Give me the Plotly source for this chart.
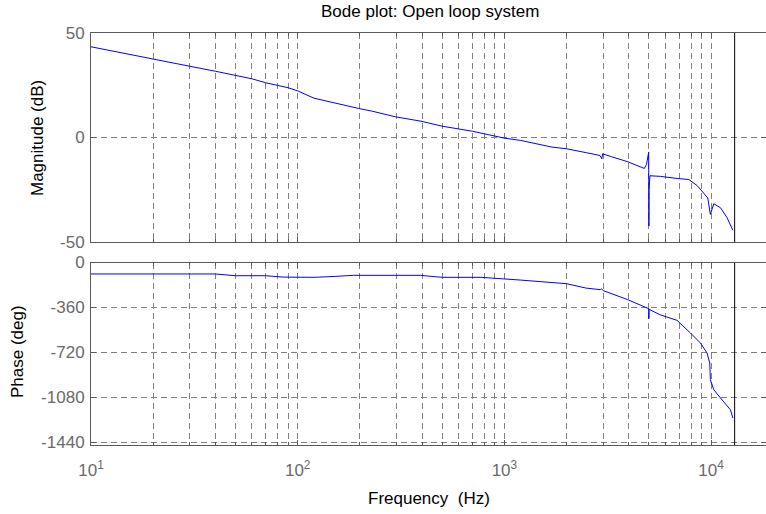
import plotly.graph_objects as go

# ---------------- data ----------------
freq_mag = [10, 14.4, 20, 30, 40, 50, 60, 70, 90, 100, 120, 197, 229, 297, 395, 500, 700,
            1000, 1200, 1700, 2000, 2500, 2900, 2960, 2985, 3300, 3950, 4750, 4870, 4990,
            5000, 5010, 5060, 5690, 6850, 7800, 8560, 9210, 9630, 9920, 10300, 11100,
            11950, 12750]
mag_db = [43.4, 40.2, 37.3, 34.1, 31.7, 29.8, 28.1, 26.2, 23.8, 22.3, 18.8, 13.9, 12.6, 9.9,
          7.8, 5.4, 3.0, -0.3, -1.4, -4.6, -5.4, -7.3, -8.6, -10.2, -7.8, -9.2, -11.6, -14.8,
          -12.9, -7.0, -42.4, -25.0, -18.3, -18.6, -19.6, -20.1, -23.0, -26.5, -28.9, -36.8,
          -31.7, -33.6, -38.4, -44.4]

freq_ph = [10, 40, 50, 70, 85, 120, 150, 186, 392, 500, 770, 1000, 1200, 2000, 2480, 2910,
           2950, 3000, 3950, 4900, 4990, 5000, 5010, 5650, 6840, 7940, 8880, 9560, 9850,
           9920, 10300, 11100, 12400, 12750]
phase_deg = [-92, -92, -106, -106, -117, -119, -112, -103, -103, -119, -119, -130, -141,
             -170, -205, -218, -211, -225, -298, -365, -370, -451, -375, -419, -464, -565,
             -646, -726, -806, -940, -1020, -1087, -1181, -1248]

f_end = 13000  # vertical marker line

mag_ticks = [-50, 0, 50]
mag_ticktext = ["-50", "0", "50"]
phase_ticks = [0, -360, -720, -1080, -1440]
phase_ticktext = ["0", "-360", "-720", "-1080", "-1440"]
x_ticks = [10, 100, 1000, 10000]
x_ticktext = ["10<sup>1</sup>", "10<sup>2</sup>", "10<sup>3</sup>", "10<sup>4</sup>"]
x_minor = [m * d for d in (10, 100, 1000, 10000) for m in range(2, 10)]

title_text = "Bode plot: Open loop system"
xlabel = "Frequency\u00a0\u00a0(Hz)"
ylabel_mag = "Magnitude (dB)"
ylabel_ph = "Phase (deg)"

# ---------------- layout ----------------
W, H = 766, 514
ML, MR, MT, MB = 91, 0, 33, 69
PW, PH = W - ML - MR, H - MT - MB
FONT = "Liberation Sans, Arial, sans-serif"
AX = "#5a5a5a"
GRID = "#808080"
TICKC = "#6a6a6a"
FS = 17


def px(x):
    return (x - ML) / PW


def py(y):
    return (H - MB - y) / PH


fig = go.Figure()
blue = dict(color="#0000ff", width=1)
fig.add_trace(go.Scatter(x=freq_mag, y=mag_db, mode="lines", line=blue,
                         xaxis="x", yaxis="y", showlegend=False, hoverinfo="skip"))
fig.add_trace(go.Scatter(x=freq_ph, y=phase_deg, mode="lines", line=blue,
                         xaxis="x2", yaxis="y2", showlegend=False, hoverinfo="skip"))
fig.add_trace(go.Scatter(x=[f_end, f_end], y=[mag_ticks[0], mag_ticks[-1]], mode="lines",
                         line=dict(color="black", width=1), xaxis="x", yaxis="y",
                         showlegend=False, hoverinfo="skip"))
fig.add_trace(go.Scatter(x=[f_end, f_end], y=[-1464, 0], mode="lines",
                         line=dict(color="black", width=1), xaxis="x2", yaxis="y2",
                         showlegend=False, hoverinfo="skip"))

top_dom = [py(242), 1]
bot_dom = [0, py(262.5)]

xcommon = dict(type="log", range=[1, 1 + PW / 206.7], showline=True, linecolor=AX,
               linewidth=1, mirror="allticks", ticks="inside", ticklen=5, tickcolor=AX,
               showgrid=True, gridcolor=GRID, griddash="6px,4px", gridwidth=1,
               zeroline=False, tickvals=x_ticks,
               minor=dict(tickvals=x_minor, ticks="inside", ticklen=3, tickcolor=AX,
                          showgrid=True, gridcolor=GRID, griddash="6px,4px", gridwidth=1))
ycommon = dict(showline=True, linecolor=AX, linewidth=1, mirror="allticks",
               ticks="inside", ticklen=5, tickcolor=AX, showgrid=True, gridcolor=GRID,
               griddash="6px,4px", gridwidth=1, zeroline=False,
               tickfont=dict(family=FONT, size=FS, color=TICKC), ticklabelstandoff=2)

fig.update_layout(
    width=W, height=H, margin=dict(l=ML, r=MR, t=MT, b=MB),
    paper_bgcolor="white", plot_bgcolor="white",
    font=dict(family=FONT, size=FS, color="black"),
    xaxis=dict(xcommon, domain=[0, 1], anchor="y", showticklabels=False),
    yaxis=dict(ycommon, domain=top_dom, anchor="x", range=[-50, 50], tickvals=mag_ticks,
               ticktext=mag_ticktext),
    xaxis2=dict(xcommon, domain=[0, 1], anchor="y2", ticktext=x_ticktext,
                tickfont=dict(family=FONT, size=FS, color=TICKC), ticklabelstandoff=10),
    yaxis2=dict(ycommon, domain=bot_dom, anchor="x2", range=[-1464, 0],
                tickvals=phase_ticks, ticktext=phase_ticktext),
    annotations=[
        dict(text=title_text, x=px(430), y=py(12), xref="paper", yref="paper",
             showarrow=False, font=dict(family=FONT, size=FS, color="black"),
             xanchor="center", yanchor="middle"),
        dict(text=xlabel, x=px(429), y=py(498), xref="paper", yref="paper",
             showarrow=False, font=dict(family=FONT, size=FS, color="black"),
             xanchor="center", yanchor="middle"),
        dict(text=ylabel_mag, x=px(37), y=py(138), xref="paper", yref="paper",
             showarrow=False, textangle=-90, font=dict(family=FONT, size=FS, color="black"),
             xanchor="center", yanchor="middle"),
        dict(text=ylabel_ph, x=px(17), y=py(352), xref="paper", yref="paper",
             showarrow=False, textangle=-90, font=dict(family=FONT, size=FS, color="black"),
             xanchor="center", yanchor="middle"),
    ],
)

fig.write_html("out.html")
